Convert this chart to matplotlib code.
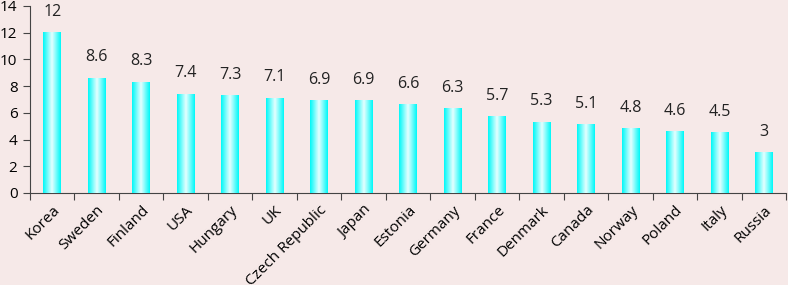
import matplotlib
matplotlib.use('Agg')
import matplotlib.pyplot as plt
import numpy as np
from matplotlib.colors import LinearSegmentedColormap

countries = ['Korea', 'Sweden', 'Finland', 'USA', 'Hungary', 'UK', 'Czech Republic',
             'Japan', 'Estonia', 'Germany', 'France', 'Denmark', 'Canada', 'Norway',
             'Poland', 'Italy', 'Russia']
values = [12, 8.6, 8.3, 7.4, 7.3, 7.1, 6.9, 6.9, 6.6, 6.3, 5.7, 5.3, 5.1, 4.8, 4.6, 4.5, 3]
labels = ['12', '8.6', '8.3', '7.4', '7.3', '7.1', '6.9', '6.9', '6.6', '6.3', '5.7',
          '5.3', '5.1', '4.8', '4.6', '4.5', '3']

bg = '#f6e9e8'
plt.rcParams['font.family'] = ['Open Sans', 'DejaVu Sans']

fig = plt.figure(figsize=(7.88, 2.85), dpi=100, facecolor=bg)
ax = fig.add_axes([0.038, 0.323, 0.96, 0.656], facecolor=bg)

x = np.arange(len(countries))
width = 0.4
bars = ax.bar(x, values, width=width, color='#11ffff', edgecolor='none', zorder=2)

# horizontal gradient: cyan edges, pale centre
cmap = LinearSegmentedColormap.from_list('g', ['#00f8f8', '#e6ffff', '#00f8f8'])
grad = np.linspace(0, 1, 64).reshape(1, -1)
for b in bars:
    x0 = b.get_x()
    ax.imshow(grad, cmap=cmap, aspect='auto', zorder=3,
              extent=(x0, x0 + b.get_width(), 0, b.get_height()))

for xi, v, t in zip(x, values, labels):
    ax.text(xi, v + 0.95, t, ha='center', va='bottom', fontsize=11.5, color='#222222')

ax.set_xlim(-0.5, len(countries) - 0.5)
ax.set_ylim(0, 14)
ax.set_yticks(range(0, 15, 2))
ax.set_xticks(np.arange(-0.5, len(countries), 1))
ax.set_xticklabels([])
ax.set_xticks(x, minor=True)
ax.set_xticklabels(countries, minor=True, rotation=45, ha='right', rotation_mode='anchor',
                   fontsize=11)
ax.tick_params(axis='x', which='minor', length=0, pad=7)
ax.tick_params(axis='x', which='major', length=5, direction='out', color='#444444')
ax.tick_params(axis='y', length=5, direction='out', color='#444444', labelsize=11, pad=4)

for s in ['top', 'right']:
    ax.spines[s].set_visible(False)
for s in ['left', 'bottom']:
    ax.spines[s].set_color('#444444')

fig.savefig('out.png', dpi=100, facecolor=bg)
